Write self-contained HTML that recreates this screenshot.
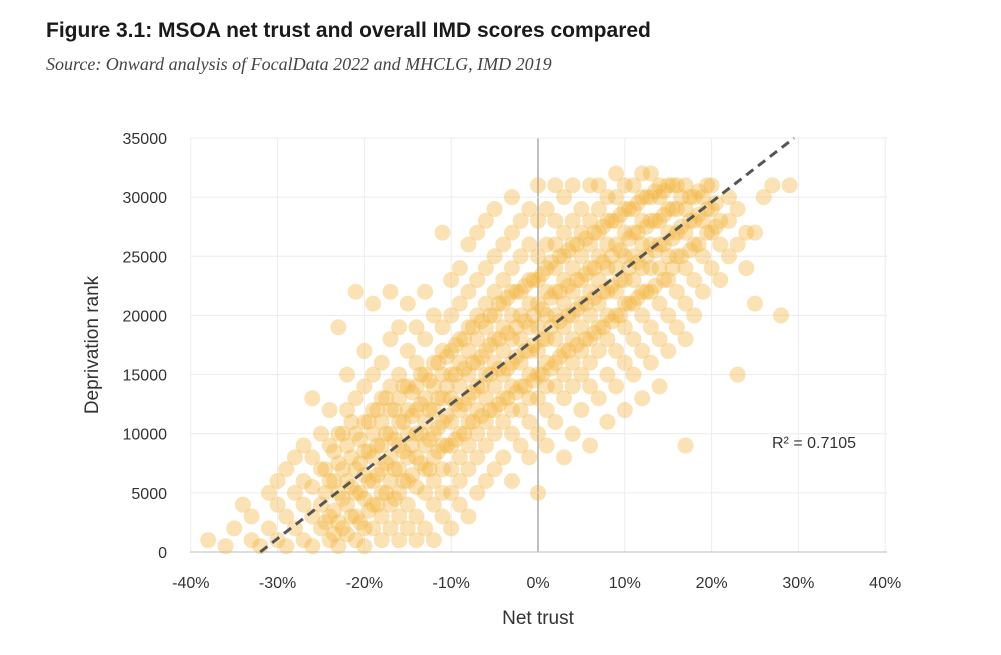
<!DOCTYPE html>
<html><head><meta charset="utf-8">
<style>
body{margin:0;background:#fff;width:1001px;height:655px;overflow:hidden;font-family:"Liberation Sans",sans-serif}
#title{position:absolute;left:46px;top:19px;font-weight:bold;font-size:21px;color:#1a1a1a}
#sub{position:absolute;left:46px;top:54px;font-family:"Liberation Serif",serif;font-style:italic;font-size:18px;color:#444}
svg{position:absolute;left:0;top:0}
</style></head><body>
<div id="title">Figure 3.1: MSOA net trust and overall IMD scores compared</div>
<div id="sub">Source: Onward analysis of FocalData 2022 and MHCLG, IMD 2019</div>
<svg id="chart" width="1001" height="655"></svg>
<script>
const netTrust=[-38,-36,-35,-34,-33,-33,-32,-31,-31,-30,-30,-30,-29,-29,-29,-28,-28,-28,-27,-27,-27,-27,-26,-26,-26,-26,-26,-25,-25,-25,-25,-24,-24,-24,-24,-24,-23,-23,-23,-23,-23,-23,-22,-22,-22,-22,-22,-22,-21,-21,-21,-21,-21,-21,-21,-20,-20,-20,-20,-20,-20,-20,-20,-19,-19,-19,-19,-19,-19,-19,-19,-18,-18,-18,-18,-18,-18,-18,-18,-17,-17,-17,-17,-17,-17,-17,-17,-17,-16,-16,-16,-16,-16,-16,-16,-16,-16,-15,-15,-15,-15,-15,-15,-15,-15,-15,-14,-14,-14,-14,-14,-14,-14,-14,-14,-13,-13,-13,-13,-13,-13,-13,-13,-13,-12,-12,-12,-12,-12,-12,-12,-12,-12,-11,-11,-11,-11,-11,-11,-11,-11,-11,-11,-10,-10,-10,-10,-10,-10,-10,-10,-10,-10,-9,-9,-9,-9,-9,-9,-9,-9,-9,-9,-8,-8,-8,-8,-8,-8,-8,-8,-8,-8,-7,-7,-7,-7,-7,-7,-7,-7,-7,-7,-6,-6,-6,-6,-6,-6,-6,-6,-6,-6,-5,-5,-5,-5,-5,-5,-5,-5,-5,-5,-4,-4,-4,-4,-4,-4,-4,-4,-4,-3,-3,-3,-3,-3,-3,-3,-3,-3,-3,-3,-2,-2,-2,-2,-2,-2,-2,-2,-2,-1,-1,-1,-1,-1,-1,-1,-1,-1,-1,0,0,0,0,0,0,0,0,0,0,0,1,1,1,1,1,1,1,1,1,1,2,2,2,2,2,2,2,2,2,2,3,3,3,3,3,3,3,3,3,3,4,4,4,4,4,4,4,4,4,4,5,5,5,5,5,5,5,5,5,6,6,6,6,6,6,6,6,6,6,7,7,7,7,7,7,7,7,7,8,8,8,8,8,8,8,8,8,9,9,9,9,9,9,9,9,9,10,10,10,10,10,10,10,10,10,11,11,11,11,11,11,11,11,12,12,12,12,12,12,12,12,12,13,13,13,13,13,13,13,13,14,14,14,14,14,14,14,14,15,15,15,15,15,15,15,16,16,16,16,16,16,17,17,17,17,17,17,17,18,18,18,18,18,19,19,19,19,20,20,20,20,21,21,21,22,22,22,23,23,23,24,24,25,25,26,27,28,29];
const deprivationRankK=[1,0.5,2,4,1,3,0.5,2,5,1,4,6,0.5,3,7,2,5,8,1,4,6,9,0.5,3,5.5,8,13,2,4,7,10,1,3,6,9,12,0.5,2.5,5,7.5,10,19,1.5,4,6,9,12,15,1,3,5,7,10,13,22,0.5,2,4.5,6.5,8.5,11,14,17,2,4,6,8,10,12,15,21,1,3,5,7,9,11,13,16,2,4,6,8,10,12,14,18,22,1,3,5,7,9,11,13,15,19,2,4,6,8,10,12,14,17,21,1,3,5.5,8,10,12,14,16,19,2,5,7,9,11,13,15,18,22,1,4,6,8,10,12,14,16,20,3,5,7,9,11,13,15,17,19,27,2,5,7,9,11,13,15,17,20,23,4,6,8,10,12,14,16,18,21,24,3,7,9,11,13,15,17,19,22,26,5,8,10,12,14,16,18,20,23,27,6,9,11,13,15,17,19,21,24,28,7,10,12,14,16,18,20,22,25,29,8,11,13,15,17,19,21,23,26,6,10,12,14,16,18,20,22,24,27,30,9,12,14,16,18,20,22,25,28,8,11,13,15,17,19,21,23,26,29,5,10,13,15,17,19,21,23,25,28,31,9,12,14,16,18,20,22,24,26,29,11,14,16,18,20,22,24,26,28,31,8,13,15,17,19,21,23,25,27,30,10,14,16,18,20,22,24,26,28,31,12,15,17,19,21,23,25,27,29,9,14,16,18,20,22,24,26,28,31,13,17,19,21,23,25,27,29,31,11,15,18,20,22,24,26,28,30,14,17,20,22,24,26,28,30,32,12,16,19,21,23,25,27,29,31,15,18,21,23,25,27,29,31,13,17,20,22,24,26,28,30,32,16,19,22,24,26,28,30,32,14,18,21,24,26,28,30,31,17,20,23,25,27,29,31,19,22,25,27,29,31,9,18,21,24,27,29,31,20,23,26,28,30,22,25,28,30,24,27,29,31,23,26,28,25,28,30,15,26,29,24,27,21,27,30,31,20,31];
const netTrustB=[-24.5,-24.5,-24.5,-23.5,-23.5,-23.5,-23.5,-22.5,-22.5,-22.5,-22.5,-21.5,-21.5,-21.5,-21.5,-20.5,-20.5,-20.5,-20.5,-19.5,-19.5,-19.5,-19.5,-18.5,-18.5,-18.5,-18.5,-17.5,-17.5,-17.5,-17.5,-16.5,-16.5,-16.5,-16.5,-15.5,-15.5,-15.5,-15.5,-14.5,-14.5,-14.5,-14.5,-13.5,-13.5,-13.5,-13.5,-12.5,-12.5,-12.5,-12.5,-11.5,-11.5,-11.5,-11.5,-10.5,-10.5,-10.5,-10.5,-9.5,-9.5,-9.5,-9.5,-8.5,-8.5,-8.5,-8.5,-7.5,-7.5,-7.5,-7.5,-6.5,-6.5,-6.5,-6.5,-5.5,-5.5,-5.5,-5.5,-4.5,-4.5,-4.5,-4.5,-3.5,-3.5,-3.5,-3.5,-2.5,-2.5,-2.5,-2.5,-1.5,-1.5,-1.5,-1.5,-0.5,-0.5,-0.5,-0.5,0.5,0.5,0.5,0.5,1.5,1.5,1.5,1.5,2.5,2.5,2.5,2.5,3.5,3.5,3.5,3.5,4.5,4.5,4.5,4.5,5.5,5.5,5.5,5.5,6.5,6.5,6.5,6.5,7.5,7.5,7.5,7.5,8.5,8.5,8.5,8.5,9.5,9.5,9.5,9.5,10.5,10.5,10.5,10.5,11.5,11.5,11.5,11.5,12.5,12.5,12.5,12.5,13.5,13.5,13.5,13.5,14.5,14.5,14.5,14.5,15.5,15.5,15.5,15.5,16.5,16.5,16.5,17.5,17.5,17.5,18.5,18.5,18.5,19.5,19.5,19.5,20.5,20.5];
const deprivationRankKB=[2.5,5,7,1.5,3.5,6,8.5,2,4.5,7,10,3,5.5,8,11,2.5,5,7.5,9.5,3.5,6,8.5,11,4,6.5,9,12,5,7.5,10,13,4.5,7,9.5,12,6,8.5,11,14,6.5,9,11.5,13.5,7.5,10,12.5,15,7,9.5,12,14.5,8.5,10.5,13,16,9,11.5,14,16.5,9.5,12.5,15,17.5,10,12.5,15.5,18,11,13.5,16,19,11.5,14,16.5,19.5,12,15,17.5,20,12.5,15.5,18,21,13,15.5,18.5,21.5,13.5,16.5,19,22,14,17,19.5,22.5,14.5,17.5,20,23,15,18,20.5,23.5,15.5,19,21.5,24.5,16.5,19.5,22,25,17,20,22.5,25.5,17.5,20.5,23,26,18,21,23.5,26.5,18.5,21.5,24,27,19,22,24.5,27.5,19.5,22.5,25,28,20,23,25.5,28.5,21,24,26.5,29,21.5,24.5,27,29.5,22,25,27.5,30,22.5,25.5,28,30.5,23,26,28.5,30.5,24,26.5,29,31,25,27.5,30,25.5,28,30,26,28.5,30.5,27,29,31,27.5,29.5];
const xTicks=[-40,-30,-20,-10,0,10,20,30,40];
const yTicks=[0,5000,10000,15000,20000,25000,30000,35000];
const fitLine=[[-32,0],[29.5,35000]];
const svg=document.getElementById('chart');const NS='http://www.w3.org/2000/svg';
const X=v=>538+v*8.68, Y=v=>552-v*(414/35000);
function mk(t,a,p){const e=document.createElementNS(NS,t);for(const k in a)e.setAttribute(k,a[k]);(p||svg).appendChild(e);return e;}
xTicks.forEach(t=>{const l=mk('line',{x1:X(t),x2:X(t),y1:138,y2:552,stroke:t===0?'#aaa':'#ececec','stroke-width':t===0?1.5:1});


const tx=mk('text',{x:X(t),y:588,'text-anchor':'middle','font-size':16,fill:'#333'});tx.textContent=t+'%';

});
yTicks.forEach(t=>{const l=mk('line',{x1:190,x2:887,y1:Y(t),y2:Y(t),stroke:t===0?'#bbb':'#ececec'});


const tx=mk('text',{x:167,y:Y(t)+6,'text-anchor':'end','font-size':16,fill:'#333'});tx.textContent=t;

});
const g=mk('g',{});


function drawPts(xs,ys){xs.forEach((v,i)=>{const c=mk('circle',{cx:X(v),cy:Y(ys[i]*1000),r:8,fill:'#f2b43a','fill-opacity':0.38},g);

});}
drawPts(netTrust,deprivationRankK);
drawPts(netTrustB,deprivationRankKB);
const fl=mk('line',{x1:X(fitLine[0][0]),y1:Y(fitLine[0][1]),x2:X(fitLine[1][0]),y2:Y(fitLine[1][1]),stroke:'#555','stroke-width':3,'stroke-dasharray':'9,6'});


const r=mk('text',{x:772,y:448,'font-size':16,fill:'#333'});r.textContent='R² = 0.7105';


const xt=mk('text',{x:538,y:624,'text-anchor':'middle','font-size':19,fill:'#333'});xt.textContent='Net trust';


const yt=mk('text',{x:0,y:0,'text-anchor':'middle','font-size':19,fill:'#333',transform:'translate(98,345) rotate(-90)'});yt.textContent='Deprivation rank';


</script>
</body></html>
